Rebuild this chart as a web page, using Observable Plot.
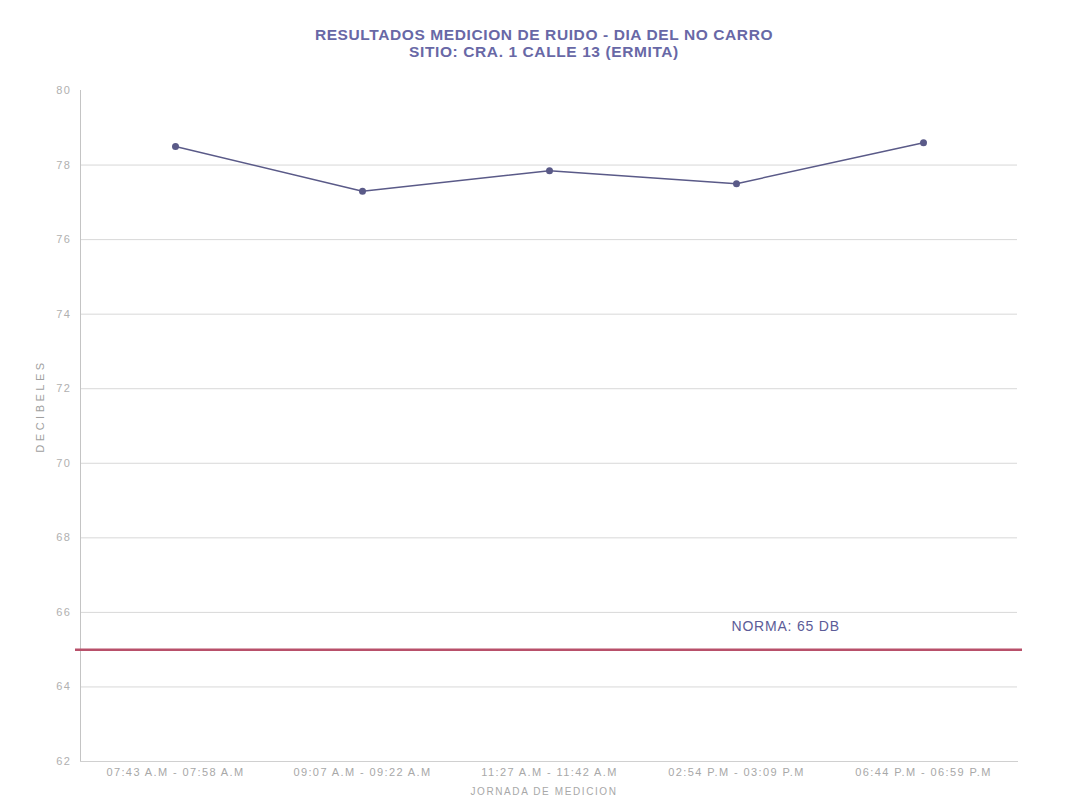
<!DOCTYPE html>
<html>
<head>
<meta charset="utf-8">
<script src="https://cdn.jsdelivr.net/npm/d3@7"></script>
<script src="https://cdn.jsdelivr.net/npm/@observablehq/plot@0.6"></script>
<style>
  html, body { margin: 0; padding: 0; background: #ffffff; }
  #wrap { position: relative; width: 1088px; height: 812px; font-family: "Liberation Sans", Arial, sans-serif; }
  #title { position: absolute; top: 26px; left: 0; width: 1088px; text-align: center; color: #6868a6; font-weight: bold; font-size: 15.5px; letter-spacing: 0.6px; line-height: 17px; z-index: 2; }
  #ytitle { position: absolute; left: 40px; top: 406px; transform: translate(-50%, -50%) rotate(-90deg); color: #a0a0a0; font-size: 11px; letter-spacing: 3.5px; z-index: 2; white-space: nowrap; }
  #xtitle { position: absolute; left: 0; top: 786px; width: 1088px; text-align: center; color: #a8a8a8; font-size: 10px; letter-spacing: 1.6px; z-index: 2; }
  #chart { position: absolute; top: 0; left: 0; }
  #chart g[aria-label="x-axis tick label"] text { letter-spacing: 1.4px; }
  #chart g[aria-label="y-axis tick label"] text { letter-spacing: 1.5px; }
  #chart g[aria-label="text"] text { letter-spacing: 0.8px; }
</style>
</head>
<body>
<div id="wrap">
  <div id="chart"></div>
  <div id="title">RESULTADOS MEDICION DE RUIDO - DIA DEL NO CARRO<br>SITIO: CRA. 1 CALLE 13 (ERMITA)</div>
  <div id="ytitle">DECIBELES</div>
  <div id="xtitle">JORNADA DE MEDICION</div>
</div>
<script>
const jornadas = [
  "07:43 A.M - 07:58 A.M",
  "09:07 A.M - 09:22 A.M",
  "11:27 A.M - 11:42 A.M",
  "02:54 P.M - 03:09 P.M",
  "06:44 P.M - 06:59 P.M"
];
const decibeles = [78.5, 77.3, 77.85, 77.5, 78.6];
const yTicks = [62, 64, 66, 68, 70, 72, 74, 76, 78, 80];
const norma = 65;
const normaLabel = "NORMA: 65 DB";
const normaLabelAt = jornadas[3];

const data = jornadas.map((j, i) => ({jornada: j, db: decibeles[i]}));

const chart = Plot.plot({
  width: 1088,
  height: 812,
  marginTop: 90,
  marginBottom: 51,
  marginLeft: 80,
  marginRight: 71,
  style: { background: "transparent", fontFamily: "Liberation Sans, Arial, sans-serif" },
  x: { type: "point", domain: jornadas, padding: 0.5, label: null },
  y: { domain: [62, 80], label: null },
  marks: [
    Plot.gridY(yTicks.filter(t => t !== 62 && t !== 80), { stroke: "#d8d8d8", strokeOpacity: 1 }),
    Plot.frame({ anchor: "left", stroke: "#c4c4c4" }),
    Plot.frame({ anchor: "bottom", stroke: "#d0d0d0" }),
    Plot.axisY(yTicks, { tickSize: 0, tickPadding: 9, fontSize: 11, color: "#b0b0b0", label: null }),
    Plot.axisX({ tickSize: 0, tickPadding: 7, fontSize: 11, color: "#a8a8a8", label: null }),
    Plot.ruleY([norma], { stroke: "#b8506a", strokeWidth: 2.5, insetLeft: -5, insetRight: -5 }),
    Plot.text([normaLabel], { x: () => normaLabelAt, y: () => norma, text: d => d, textAnchor: "start", dx: -5, dy: -23, fill: "#5c5c98", fontSize: 14 }),
    Plot.line(data, { x: "jornada", y: "db", stroke: "#5a5a88", strokeWidth: 1.5 }),
    Plot.dot(data, { x: "jornada", y: "db", r: 3.5, fill: "#5a5a88", stroke: "none" })
  ]
});
document.getElementById("chart").appendChild(chart);
</script>
</body>
</html>
